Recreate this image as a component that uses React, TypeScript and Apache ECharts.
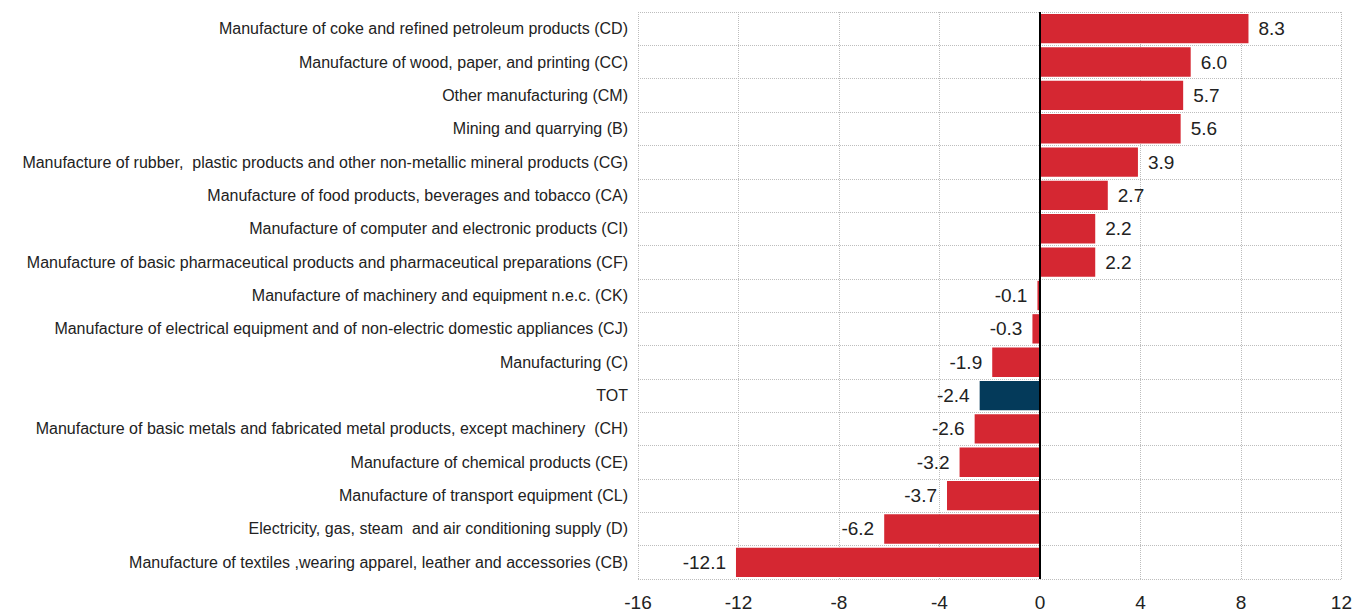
import React, { useEffect, useRef } from "react";
import * as echarts from "echarts";

const categories = [
  "Manufacture of coke and refined petroleum products (CD)",
  "Manufacture of wood, paper, and printing (CC)",
  "Other manufacturing (CM)",
  "Mining and quarrying (B)",
  "Manufacture of rubber,  plastic products and other non-metallic mineral products (CG)",
  "Manufacture of food products, beverages and tobacco (CA)",
  "Manufacture of computer and electronic products (CI)",
  "Manufacture of basic pharmaceutical products and pharmaceutical preparations (CF)",
  "Manufacture of machinery and equipment n.e.c. (CK)",
  "Manufacture of electrical equipment and of non-electric domestic appliances (CJ)",
  "Manufacturing (C)",
  "TOT",
  "Manufacture of basic metals and fabricated metal products, except machinery  (CH)",
  "Manufacture of chemical products (CE)",
  "Manufacture of transport equipment (CL)",
  "Electricity, gas, steam  and air conditioning supply (D)",
  "Manufacture of textiles ,wearing apparel, leather and accessories (CB)",
];

const values = [8.3, 6.0, 5.7, 5.6, 3.9, 2.7, 2.2, 2.2, -0.1, -0.3, -1.9, -2.4, -2.6, -3.2, -3.7, -6.2, -12.1];

const highlight = "TOT";

const FONT = "'Liberation Sans Narrow', 'Arial Narrow', 'Liberation Sans', Arial, sans-serif";

export default function App() {
  const ref = useRef<HTMLDivElement>(null);
  useEffect(() => {
    if (!ref.current) return;
    const chart = echarts.init(ref.current, undefined, { renderer: "svg" });
    const data = values.map((v, i) => ({
      value: v,
      itemStyle: { color: categories[i] === highlight ? "#043A5A" : "#D52732" },
      label: {
        position: v >= 0 ? "right" : "left",
      },
    }));
    chart.setOption({
      animation: false,
      grid: { left: 638, right: 13, top: 12, bottom: 36, containLabel: false },
      xAxis: {
        type: "value",
        min: -16,
        max: 12,
        interval: 4,
        axisLine: { show: false },
        axisTick: { show: false },
        axisLabel: { color: "#222", fontSize: 19, fontFamily: FONT, margin: 14 },
        splitLine: { show: true, lineStyle: { color: "#bdbdbd", type: "dotted", width: 1 } },
      },
      yAxis: {
        type: "category",
        data: categories,
        inverse: true,
        axisLine: { show: false, onZero: false },
        axisTick: { show: false },
        axisLabel: { color: "#222", fontSize: 16, fontFamily: FONT, margin: 10 },
        splitLine: { show: true, lineStyle: { color: "#bdbdbd", type: "dotted", width: 1 } },
      },
      series: [
        {
          type: "bar",
          data,
          barCategoryGap: "12%",
          label: {
            show: true,
            color: "#222",
            fontSize: 19,
            fontFamily: FONT,
            distance: 10,
            formatter: (p: any) => Number(p.value).toFixed(1),
          },
          markLine: {
            silent: true,
            symbol: "none",
            label: { show: false },
            lineStyle: { color: "#000", type: "solid", width: 2 },
            data: [{ xAxis: 0 }],
          },
        },
      ],
    });
    return () => chart.dispose();
  }, []);
  return (
    <div
      ref={ref}
      style={{ position: "absolute", left: 0, top: 0, width: 1355, height: 615, background: "#fff" }}
    />
  );
}
